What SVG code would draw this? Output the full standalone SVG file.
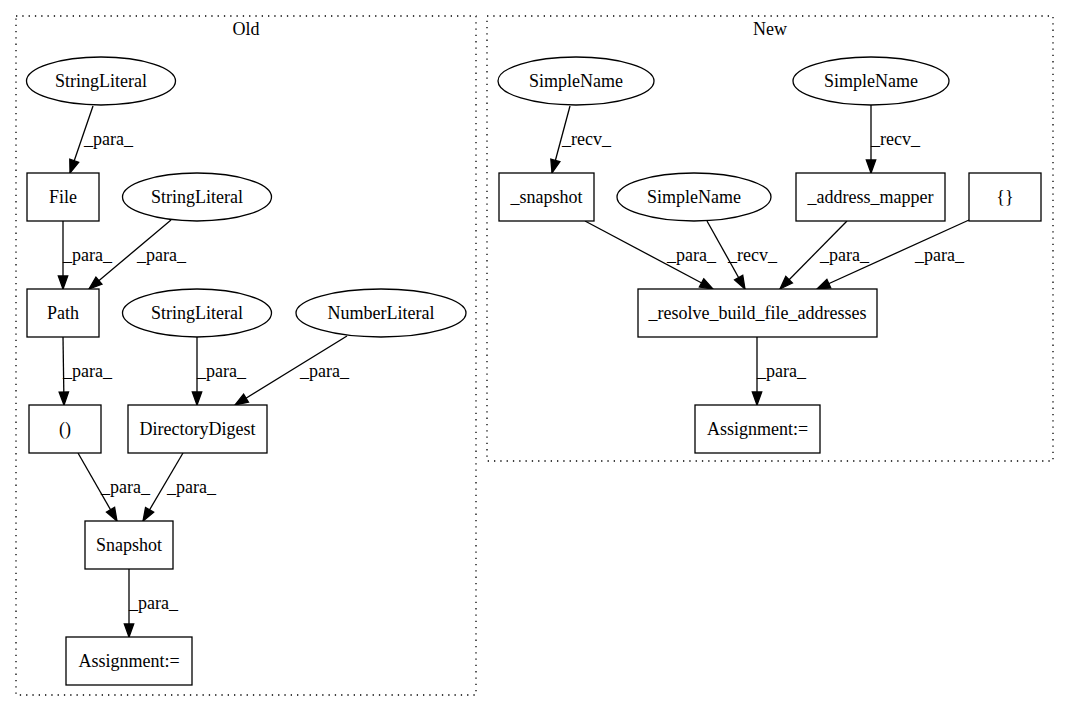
<svg xmlns="http://www.w3.org/2000/svg" width="1068" height="712" viewBox="0 0 1068 712" font-family="'Liberation Serif', 'DejaVu Serif', serif" font-size="18">
<style>
.n{text-anchor:middle}
.nd{fill:#fff;stroke:#000;stroke-width:1.3}
.cl{fill:none;stroke:#000;stroke-width:1.3;stroke-dasharray:1.3,5}
.e{fill:none;stroke:#000;stroke-width:1.3;marker-end:url(#ah)}
</style>
<defs>
<marker id="ah" markerUnits="userSpaceOnUse" markerWidth="14" markerHeight="10" refX="13" refY="4.7" orient="auto" overflow="visible">
<path d="M0,0 L13,4.7 L0,9.4 Z" fill="#000" stroke="#000" stroke-width="1.3"/>
</marker>
</defs>
<rect width="1068" height="712" fill="#fff"/>
<g id="cluster-old">
<rect class="cl" x="16" y="16" width="460" height="679"/>
<text class="n" x="246" y="35">Old</text>
</g>
<g id="cluster-new">
<rect class="cl" x="487" y="16" width="566" height="445"/>
<text class="n" x="770" y="35">New</text>
</g>
<g id="connectors">
<path class="e" d="M93,106 L70,173"/>
<text x="84" y="145">_para_</text>
<path class="e" d="M63,221 L63,289"/>
<text x="63" y="261">_para_</text>
<path class="e" d="M171,220 L89,289"/>
<text x="137" y="261">_para_</text>
<path class="e" d="M63,337 L64,405"/>
<text x="63" y="377">_para_</text>
<path class="e" d="M197,337 L197,405"/>
<text x="197" y="377">_para_</text>
<path class="e" d="M347,336 L235,405"/>
<text x="300" y="377">_para_</text>
<path class="e" d="M78,453 L117,521"/>
<text x="101" y="493">_para_</text>
<path class="e" d="M183,453 L143,521"/>
<text x="167" y="493">_para_</text>
<path class="e" d="M129,569 L129,637"/>
<text x="129" y="609">_para_</text>
<path class="e" d="M570,106 L552,173"/>
<text x="562" y="145">_recv_</text>
<path class="e" d="M871,105 L871,173"/>
<text x="871" y="145">_recv_</text>
<path class="e" d="M585,221 L713,289"/>
<text x="667" y="261">_para_</text>
<path class="e" d="M707,221 L745,289"/>
<text x="728" y="261">_recv_</text>
<path class="e" d="M847,221 L780,289"/>
<text x="820" y="261">_para_</text>
<path class="e" d="M969,220 L817,289"/>
<text x="915" y="261">_para_</text>
<path class="e" d="M757,337 L757,405"/>
<text x="757" y="377">_para_</text>
</g>
<g id="old-stringliteral-1"><ellipse class="nd" cx="101" cy="81" rx="74.5" ry="24"/><text class="n" x="101" y="87">StringLiteral</text></g>
<g id="old-file"><rect class="nd" x="27" y="173" width="72" height="48"/><text class="n" x="63" y="203">File</text></g>
<g id="old-stringliteral-2"><ellipse class="nd" cx="197" cy="197" rx="74.5" ry="24"/><text class="n" x="197" y="203">StringLiteral</text></g>
<g id="old-path"><rect class="nd" x="27" y="289" width="72" height="48"/><text class="n" x="63" y="319">Path</text></g>
<g id="old-stringliteral-3"><ellipse class="nd" cx="197" cy="313" rx="74.5" ry="24"/><text class="n" x="197" y="319">StringLiteral</text></g>
<g id="old-numberliteral"><ellipse class="nd" cx="381" cy="313" rx="85" ry="24"/><text class="n" x="381" y="319">NumberLiteral</text></g>
<g id="old-tuple"><rect class="nd" x="29" y="405" width="72" height="48"/><text class="n" x="65" y="435">()</text></g>
<g id="old-directorydigest"><rect class="nd" x="128" y="405" width="139" height="48"/><text class="n" x="197.5" y="435">DirectoryDigest</text></g>
<g id="old-snapshot"><rect class="nd" x="85" y="521" width="88" height="48"/><text class="n" x="129" y="551">Snapshot</text></g>
<g id="old-assignment"><rect class="nd" x="66" y="637" width="126" height="48"/><text class="n" x="129" y="667">Assignment:=</text></g>
<g id="new-simplename-1"><ellipse class="nd" cx="576" cy="81" rx="78" ry="24"/><text class="n" x="576" y="87">SimpleName</text></g>
<g id="new-simplename-2"><ellipse class="nd" cx="871" cy="81" rx="78" ry="24"/><text class="n" x="871" y="87">SimpleName</text></g>
<g id="new-snapshot"><rect class="nd" x="499" y="173" width="95" height="48"/><text class="n" x="546.5" y="203">_snapshot</text></g>
<g id="new-simplename-3"><ellipse class="nd" cx="694" cy="197" rx="77" ry="24"/><text class="n" x="694" y="203">SimpleName</text></g>
<g id="new-address-mapper"><rect class="nd" x="796" y="173" width="149" height="48"/><text class="n" x="870.5" y="203">_address_mapper</text></g>
<g id="new-braces"><rect class="nd" x="969" y="173" width="72" height="48"/><text class="n" x="1005" y="203">{}</text></g>
<g id="new-resolve"><rect class="nd" x="638" y="289" width="239" height="48"/><text class="n" x="757.5" y="319">_resolve_build_file_addresses</text></g>
<g id="new-assignment"><rect class="nd" x="695" y="405" width="125" height="48"/><text class="n" x="757.5" y="435">Assignment:=</text></g>
</svg>
